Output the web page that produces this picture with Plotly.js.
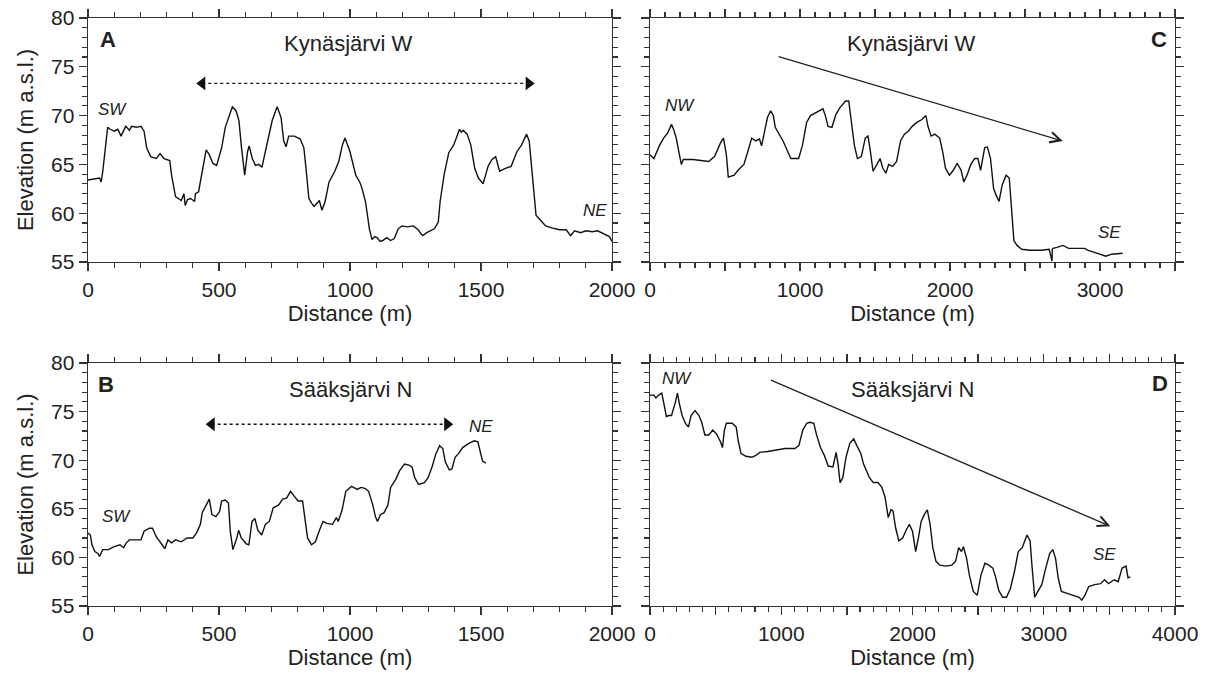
<!DOCTYPE html>
<html>
<head>
<meta charset="utf-8">
<script src="https://cdn.plot.ly/plotly-3.0.1.min.js"></script>
<style>html,body{margin:0;padding:0;background:#fff;}#chart{width:1211px;height:673px;}</style>
</head>
<body>
<div id="chart"></div>
<script>
// Panel A: Kynäsjärvi W, SW -> NE
const distA = [0,20,35,44,50,56,75,85,100,114,126,144,158,166,185,202,214,224,239,261,275,290,312,319,334,356,366,371,380,392,407,410,422,436,451,463,477,491,510,524,539,551,565,576,586,598,609,615,627,639,652,664,671,685,703,722,737,747,756,766,788,810,824,832,843,854,863,873,883,893,905,920,942,957,971,981,1000,1022,1037,1044,1059,1074,1084,1095,1103,1115,1125,1140,1155,1169,1184,1198,1220,1242,1260,1271,1278,1293,1322,1337,1344,1359,1377,1396,1418,1425,1432,1447,1461,1476,1490,1508,1527,1542,1556,1571,1593,1615,1637,1655,1674,1684,1696,1710,1733,1747,1770,1784,1800,1825,1842,1857,1880,1901,1925,1945,1960,1975,1990,2000];
const elevA = [63.4,63.5,63.6,63.6,63.2,64.2,68.8,68.6,68.4,68.6,67.9,68.9,68.5,68.9,68.8,68.9,68.4,66.7,65.8,65.6,66.1,65.6,65.4,63.9,61.7,61.3,62.0,60.8,61.4,61.5,61.2,62.0,62.2,64.3,66.5,66.0,65.1,64.9,66.7,68.8,70.1,70.9,70.5,69.5,66.7,63.9,66.3,66.9,65.6,64.9,65.0,64.7,65.6,67.4,69.5,70.9,69.8,67.4,66.8,67.9,67.9,67.6,66.7,64.6,61.5,61.0,60.7,61.0,61.3,60.3,61.2,63.2,64.3,65.3,67.0,67.7,66.3,63.9,63.2,62.7,61.2,58.4,57.3,57.6,57.5,57.1,57.2,57.5,57.2,57.4,58.4,58.7,58.6,58.7,58.3,57.9,57.7,58.0,58.4,59.1,61.2,63.9,66.2,67.0,68.6,68.3,68.5,68.1,67.0,64.6,63.6,63.0,64.8,65.5,65.8,64.3,64.6,64.8,66.3,67.0,68.1,67.4,63.9,59.8,59.1,58.7,58.5,58.4,58.3,58.3,57.7,58.2,58.0,58.2,58.1,58.2,58.0,57.8,57.6,57.1];

// Panel B: Sääksjärvi N, SW -> NE
const distB = [0,9,15,26,38,44,56,78,100,122,136,146,158,180,202,214,234,246,261,283,293,305,319,334,356,378,400,414,429,436,451,463,473,488,502,510,524,536,543,553,568,575,585,604,614,626,637,648,663,677,692,707,728,743,758,773,787,802,819,828,838,853,868,882,897,912,933,948,955,970,984,1006,1028,1042,1057,1071,1087,1097,1105,1116,1130,1145,1155,1174,1189,1208,1225,1237,1247,1262,1284,1298,1313,1327,1342,1354,1364,1379,1389,1401,1415,1430,1452,1474,1488,1496,1506,1518];
const elevB = [62.5,62.3,61.3,60.6,60.4,60.1,60.8,60.8,61.1,61.3,61.0,61.5,61.8,61.8,61.8,62.7,63.0,63.0,62.1,61.3,60.9,61.8,61.5,61.8,61.6,62.0,62.0,62.5,63.4,64.6,65.4,66.0,64.4,64.2,64.7,65.8,65.9,65.6,62.7,60.8,62.0,62.8,62.0,61.4,61.3,63.7,64.0,62.8,62.3,63.4,63.7,65.1,65.4,66.0,66.1,66.8,66.3,65.8,65.8,63.9,62.0,61.3,61.6,62.7,63.7,63.5,63.4,64.1,63.7,64.9,66.8,67.3,67.0,67.2,67.1,66.8,65.4,64.2,63.7,64.4,64.6,65.4,67.2,68.0,68.9,69.6,69.5,69.3,68.2,67.5,67.7,68.2,69.3,70.6,71.5,71.2,69.8,69.0,69.1,70.3,70.7,71.3,71.7,72.0,71.9,71.0,69.9,69.7];

// Panel C: Kynäsjärvi W, NW -> SE
const distC = [0,26,65,91,117,143,157,175,196,209,222,287,339,391,430,470,490,509,522,561,587,626,652,678,704,730,744,762,783,804,822,835,861,887,913,939,965,991,1017,1044,1070,1109,1135,1153,1169,1187,1213,1239,1265,1304,1325,1344,1362,1383,1409,1435,1453,1466,1487,1513,1534,1552,1573,1591,1617,1644,1670,1696,1722,1748,1779,1813,1839,1853,1874,1899,1931,1951,1970,1996,2022,2048,2074,2092,2113,2139,2165,2186,2204,2231,2249,2270,2291,2309,2327,2348,2374,2395,2413,2426,2447,2478,2531,2609,2661,2680,2682,2687,2713,2753,2791,2896,2922,2974,3039,3078,3125,3151];
const elevC = [66.0,65.6,67.0,67.7,68.2,69.1,68.6,67.7,66.0,65.0,65.5,65.5,65.4,65.3,65.8,67.2,67.7,66.0,63.7,63.9,64.4,65.0,66.3,67.7,67.4,67.6,66.9,68.1,69.8,70.5,70.0,68.8,68.1,67.4,66.5,65.6,65.6,65.6,67.0,69.3,70.0,70.3,70.5,70.7,70.0,68.9,68.8,70.1,70.8,71.5,71.5,69.1,67.0,65.6,65.8,67.7,67.9,66.7,64.3,65.0,65.6,64.6,64.1,65.0,64.8,65.3,67.4,68.1,68.4,68.9,69.3,69.6,70.0,68.9,67.9,68.1,67.7,66.3,64.6,63.9,64.4,65.1,64.4,63.2,63.9,65.0,65.6,65.6,64.4,66.7,66.8,65.6,62.5,61.8,61.2,62.9,63.9,63.6,59.8,57.2,56.7,56.3,56.2,56.2,56.3,55.1,56.3,56.4,56.5,56.7,56.4,56.4,56.2,55.9,55.6,55.8,55.9,55.9];

// Panel D: Sääksjärvi N, NW -> SE
const distD = [0,30,45,66,90,104,125,143,164,194,209,224,245,269,293,313,343,373,394,418,448,478,507,537,552,567,582,627,657,672,693,731,776,806,836,896,955,1030,1104,1134,1164,1194,1218,1248,1269,1299,1328,1358,1394,1418,1433,1448,1469,1493,1522,1552,1576,1606,1627,1648,1672,1701,1737,1767,1791,1815,1836,1851,1872,1896,1925,1955,1976,2000,2024,2045,2066,2090,2113,2134,2155,2179,2209,2254,2299,2328,2352,2373,2388,2412,2433,2463,2493,2522,2552,2582,2612,2633,2657,2687,2716,2746,2776,2806,2836,2872,2896,2910,2931,2955,2985,3015,3045,3069,3090,3110,3134,3179,3224,3269,3290,3313,3343,3388,3433,3463,3493,3537,3567,3597,3627,3642,3660];
const elevD = [76.7,76.7,76.4,76.7,76.9,76.0,74.5,74.6,74.6,76.0,76.9,75.8,74.6,73.8,73.4,74.6,75.1,74.6,73.9,72.6,72.6,73.1,72.7,71.9,71.3,73.1,73.8,73.8,73.4,72.0,70.7,70.4,70.3,70.5,70.8,70.9,71.0,71.2,71.2,71.5,73.1,73.8,73.9,73.8,72.6,71.3,70.5,69.4,69.3,70.8,69.6,67.7,68.2,70.3,71.7,72.2,71.5,70.7,69.6,68.9,68.2,67.7,67.7,67.2,66.2,64.1,64.9,64.8,63.0,61.7,62.0,62.9,63.4,62.7,60.6,62.0,63.7,64.4,64.9,63.4,61.0,59.6,59.2,59.1,59.2,59.6,61.0,60.6,61.1,59.9,58.2,56.5,56.1,58.2,59.4,59.2,58.9,58.0,56.6,55.9,55.9,56.8,58.5,60.6,61.0,62.3,61.7,59.2,55.9,56.5,57.2,58.9,60.4,60.8,59.9,57.9,56.5,56.3,56.1,55.9,55.6,56.1,57.0,57.2,57.3,57.7,57.3,57.7,57.5,58.9,59.1,57.9,58.0];

// Extent arrows (start, end) and direction arrows
const spanA = {x: [436, 1682], y: [73.3, 73.3]};
const spanB = {x: [472, 1371], y: [73.7, 73.7]};
const dirC = {x: [848, 2752], y: [76.1, 67.4]};
const dirD = {x: [910, 3507], y: [78.3, 63.2]};

const titleKyn = "Kynäsjärvi W";
const titleSaa = "Sääksjärvi N";

const FONT = "Liberation Sans, Arial, sans-serif";
const TXT = "#222";
const FS = 21;   // tick labels
const FT = 22;   // titles

const profile = (x, y, xa, ya) => ({x, y, xaxis: xa, yaxis: ya, type: "scatter", mode: "lines",
  line: {color: "#111", width: 1.4}, hoverinfo: "skip", showlegend: false});
const span = (s, xa, ya) => ({x: s.x, y: s.y, xaxis: xa, yaxis: ya, type: "scatter", mode: "lines+markers",
  line: {color: "#111", width: 1.3, dash: "dot"},
  marker: {symbol: ["triangle-left", "triangle-right"], size: 12, color: "#111"},
  hoverinfo: "skip", showlegend: false});

const data = [
  profile(distA, elevA, "x", "y"),
  profile(distC, elevC, "x2", "y2"),
  profile(distB, elevB, "x3", "y3"),
  profile(distD, elevD, "x4", "y4"),
  span(spanA, "x", "y"),
  span(spanB, "x3", "y3")
];

const xl = [88/1211, 612/1211], xr = [650/1211, 1175/1211];
const yt = [(673-262)/673, (673-18)/673], yb = [(673-606)/673, (673-363)/673];

function xax(dom, range, anchor, labelStep) {
  const vals = [], text = [];
  for (let v = range[0]; v <= range[1] + 1e-6; v += 500) {
    vals.push(v); text.push(v % labelStep === 0 ? String(v) : "");
  }
  return {domain: dom, range: range, anchor: anchor, tickmode: "array", tickvals: vals, ticktext: text,
    ticks: "outside", ticklen: 8, tickwidth: 1.3, tickcolor: "#333",
    minor: {dtick: 100, ticks: "outside", ticklen: 5, tickwidth: 1.1, tickcolor: "#333"},
    showline: true, linecolor: "#333", linewidth: 1.4, mirror: "allticks",
    showgrid: false, zeroline: false, tickfont: {family: FONT, size: FS, color: TXT},
    title: {text: "Distance (m)", font: {family: FONT, size: FT, color: TXT}, standoff: 4}};
}
function yax(dom, anchor, labels) {
  return {domain: dom, range: [55, 80], anchor: anchor, dtick: 5, tick0: 55,
    ticks: "outside", ticklen: 8, tickwidth: 1.3, tickcolor: "#333",
    minor: {dtick: 1, ticks: "outside", ticklen: 5, tickwidth: 1.1, tickcolor: "#333"},
    showline: true, linecolor: "#333", linewidth: 1.4, mirror: "allticks",
    showgrid: false, zeroline: false, showticklabels: labels,
    tickfont: {family: FONT, size: FS, color: TXT},
    title: labels ? {text: "Elevation (m a.s.l.)", font: {family: FONT, size: FT, color: TXT}, standoff: 11} : {text: ""}};
}

const ann = [];
const IT = {family: FONT, size: 17, color: TXT};
function txt(xr_, yr_, x, y, text, opts) {
  ann.push(Object.assign({xref: xr_, yref: yr_, x, y, text, showarrow: false,
    font: {family: FONT, size: FT, color: TXT}}, opts || {}));
}
// Panel A
txt("x", "y", 75, 77.8, "<b>A</b>");
txt("x", "y", 995, 77.4, titleKyn);
txt("x", "y", 95, 70.6, "<i>SW</i>", {font: IT});
txt("x", "y", 1935, 60.3, "<i>NE</i>", {font: IT});
// Panel C
txt("x2", "y2", 3395, 77.8, "<b>C</b>");
txt("x2", "y2", 1740, 77.4, titleKyn);
txt("x2", "y2", 200, 71.0, "<i>NW</i>", {font: IT});
txt("x2", "y2", 3066, 58.0, "<i>SE</i>", {font: IT});
// Panel B
txt("x3", "y3", 70, 77.8, "<b>B</b>");
txt("x3", "y3", 1003, 77.3, titleSaa);
txt("x3", "y3", 107, 64.2, "<i>SW</i>", {font: IT});
txt("x3", "y3", 1500, 73.5, "<i>NE</i>", {font: IT});
// Panel D
txt("x4", "y4", 3887, 77.9, "<b>D</b>");
txt("x4", "y4", 2000, 77.3, titleSaa);
txt("x4", "y4", 209, 78.4, "<i>NW</i>", {font: IT});
txt("x4", "y4", 3463, 60.3, "<i>SE</i>", {font: IT});
// direction arrows
ann.push({xref: "x2", yref: "y2", axref: "x2", ayref: "y2", x: dirC.x[1], y: dirC.y[1], ax: dirC.x[0], ay: dirC.y[0],
  text: "", showarrow: true, arrowhead: 5, arrowsize: 1.6, arrowwidth: 1.3, arrowcolor: "#222", standoff: 0});
ann.push({xref: "x4", yref: "y4", axref: "x4", ayref: "y4", x: dirD.x[1], y: dirD.y[1], ax: dirD.x[0], ay: dirD.y[0],
  text: "", showarrow: true, arrowhead: 5, arrowsize: 1.6, arrowwidth: 1.3, arrowcolor: "#222", standoff: 0});

const layout = {
  width: 1211, height: 673, margin: {l: 0, r: 0, t: 0, b: 0},
  paper_bgcolor: "#fff", plot_bgcolor: "#fff", showlegend: false,
  font: {family: FONT, color: TXT},
  xaxis: xax(xl, [0, 2000], "y", 500),
  yaxis: yax(yt, "x", true),
  xaxis2: xax(xr, [0, 3500], "y2", 1000),
  yaxis2: yax(yt, "x2", false),
  xaxis3: xax(xl, [0, 2000], "y3", 500),
  yaxis3: yax(yb, "x3", true),
  xaxis4: xax(xr, [0, 4000], "y4", 1000),
  yaxis4: yax(yb, "x4", false),
  annotations: ann
};
Plotly.newPlot("chart", data, layout, {staticPlot: true, displayModeBar: false});
</script>
</body>
</html>
